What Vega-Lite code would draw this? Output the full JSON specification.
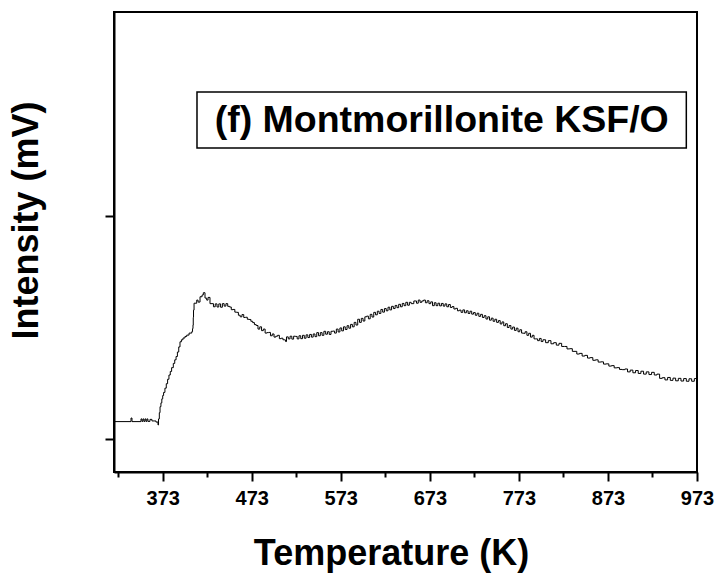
{
  "$schema": "https://vega.github.io/schema/vega-lite/v6.json",
  "width": 583,
  "height": 460,
  "autosize": {"type": "none"},
  "padding": {"left": 114, "top": 12, "right": 20, "bottom": 101},
  "background": "white",
  "config": {
    "view": {"stroke": "black", "strokeWidth": 2},
    "font": "Liberation Sans"
  },
  "layer": [
    {
      "data": {"values": [
        {"T": 318.3, "I": 0.078}, {"T": 336.3, "I": 0.078}, {"T": 337.4, "I": 0.094}, {"T": 338.5, "I": 0.078},
        {"T": 347.5, "I": 0.078}, {"T": 348.6, "I": 0.090}, {"T": 349.7, "I": 0.079}, {"T": 350.8, "I": 0.090},
        {"T": 351.9, "I": 0.079}, {"T": 353.1, "I": 0.090}, {"T": 354.2, "I": 0.079}, {"T": 355.3, "I": 0.090},
        {"T": 356.4, "I": 0.079}, {"T": 358.7, "I": 0.088}, {"T": 360.9, "I": 0.081}, {"T": 364.3, "I": 0.081},
        {"T": 365.4, "I": 0.076}, {"T": 367.7, "I": 0.063}, {"T": 368.3, "I": 0.090}, {"T": 369.2, "I": 0.118},
        {"T": 370.0, "I": 0.145}, {"T": 371.0, "I": 0.162}, {"T": 372.0, "I": 0.180}, {"T": 373.0, "I": 0.195},
        {"T": 374.0, "I": 0.209}, {"T": 375.5, "I": 0.228}, {"T": 377.0, "I": 0.248}, {"T": 378.5, "I": 0.268},
        {"T": 380.0, "I": 0.287}, {"T": 381.5, "I": 0.303}, {"T": 383.0, "I": 0.320}, {"T": 384.9, "I": 0.339},
        {"T": 386.5, "I": 0.355}, {"T": 388.0, "I": 0.370}, {"T": 389.5, "I": 0.390}, {"T": 391.0, "I": 0.413},
        {"T": 392.4, "I": 0.436}, {"T": 394.0, "I": 0.445}, {"T": 395.8, "I": 0.453}, {"T": 398.0, "I": 0.460},
        {"T": 400.0, "I": 0.466}, {"T": 402.6, "I": 0.475}, {"T": 405.6, "I": 0.481}, {"T": 406.5, "I": 0.495},
        {"T": 407.0, "I": 0.511}, {"T": 407.3, "I": 0.545}, {"T": 407.6, "I": 0.578}, {"T": 408.2, "I": 0.609},
        {"T": 411.2, "I": 0.623}, {"T": 412.7, "I": 0.614}, {"T": 414.9, "I": 0.638}, {"T": 417.2, "I": 0.646},
        {"T": 418.6, "I": 0.656}, {"T": 420.5, "I": 0.632}, {"T": 422.4, "I": 0.623}, {"T": 423.9, "I": 0.635},
        {"T": 426.1, "I": 0.607}, {"T": 430, "I": 0.593}, {"T": 432, "I": 0.606}, {"T": 434, "I": 0.592},
        {"T": 436, "I": 0.606}, {"T": 438, "I": 0.591}, {"T": 440, "I": 0.607}, {"T": 442, "I": 0.596},
        {"T": 444, "I": 0.607}, {"T": 446, "I": 0.595}, {"T": 448, "I": 0.592}, {"T": 450, "I": 0.580},
        {"T": 452, "I": 0.581}, {"T": 454, "I": 0.569}, {"T": 456, "I": 0.568}, {"T": 458, "I": 0.555},
        {"T": 460, "I": 0.548}, {"T": 462, "I": 0.558}, {"T": 464, "I": 0.545}, {"T": 466, "I": 0.546},
        {"T": 468, "I": 0.537}, {"T": 470, "I": 0.536}, {"T": 472, "I": 0.528}, {"T": 474, "I": 0.522},
        {"T": 476, "I": 0.513}, {"T": 478, "I": 0.509}, {"T": 480, "I": 0.493}, {"T": 482, "I": 0.503},
        {"T": 484, "I": 0.486}, {"T": 486, "I": 0.493}, {"T": 488, "I": 0.475}, {"T": 490, "I": 0.477},
        {"T": 492, "I": 0.478}, {"T": 494, "I": 0.463}, {"T": 496, "I": 0.471}, {"T": 498, "I": 0.457},
        {"T": 500, "I": 0.461}, {"T": 502, "I": 0.465}, {"T": 504, "I": 0.450}, {"T": 506, "I": 0.452},
        {"T": 508, "I": 0.445}, {"T": 510, "I": 0.444}, {"T": 511, "I": 0.437}, {"T": 512, "I": 0.458},
        {"T": 514, "I": 0.449}, {"T": 516, "I": 0.461}, {"T": 518, "I": 0.448}, {"T": 520, "I": 0.461},
        {"T": 522, "I": 0.460}, {"T": 524, "I": 0.449}, {"T": 526, "I": 0.463}, {"T": 528, "I": 0.450},
        {"T": 530, "I": 0.465}, {"T": 532, "I": 0.452}, {"T": 534, "I": 0.467}, {"T": 536, "I": 0.455},
        {"T": 538, "I": 0.469}, {"T": 540, "I": 0.457}, {"T": 542, "I": 0.471}, {"T": 544, "I": 0.459},
        {"T": 546, "I": 0.477}, {"T": 548, "I": 0.463}, {"T": 550, "I": 0.477}, {"T": 552, "I": 0.465},
        {"T": 554, "I": 0.483}, {"T": 556, "I": 0.470}, {"T": 558, "I": 0.481}, {"T": 560, "I": 0.469},
        {"T": 562, "I": 0.483}, {"T": 564, "I": 0.484}, {"T": 566, "I": 0.475}, {"T": 568, "I": 0.493},
        {"T": 570, "I": 0.480}, {"T": 572, "I": 0.498}, {"T": 574, "I": 0.485}, {"T": 576, "I": 0.503},
        {"T": 578, "I": 0.491}, {"T": 580, "I": 0.508}, {"T": 582, "I": 0.497}, {"T": 584, "I": 0.514},
        {"T": 586, "I": 0.503}, {"T": 588, "I": 0.523}, {"T": 590, "I": 0.511}, {"T": 592, "I": 0.537},
        {"T": 594, "I": 0.523}, {"T": 596, "I": 0.541}, {"T": 598, "I": 0.529}, {"T": 600, "I": 0.548},
        {"T": 602, "I": 0.551}, {"T": 604, "I": 0.539}, {"T": 606, "I": 0.559}, {"T": 608, "I": 0.547},
        {"T": 610, "I": 0.568}, {"T": 612, "I": 0.557}, {"T": 614, "I": 0.573}, {"T": 616, "I": 0.563},
        {"T": 618, "I": 0.581}, {"T": 620, "I": 0.569}, {"T": 622, "I": 0.585}, {"T": 624, "I": 0.575},
        {"T": 626, "I": 0.591}, {"T": 628, "I": 0.579}, {"T": 630, "I": 0.595}, {"T": 632, "I": 0.585},
        {"T": 634, "I": 0.599}, {"T": 636, "I": 0.589}, {"T": 638, "I": 0.604}, {"T": 640, "I": 0.593},
        {"T": 642, "I": 0.608}, {"T": 644, "I": 0.598}, {"T": 646, "I": 0.613}, {"T": 648, "I": 0.600},
        {"T": 650, "I": 0.613}, {"T": 652, "I": 0.607}, {"T": 655, "I": 0.619}, {"T": 658, "I": 0.609},
        {"T": 660, "I": 0.623}, {"T": 662, "I": 0.613}, {"T": 664, "I": 0.619}, {"T": 666, "I": 0.623},
        {"T": 668, "I": 0.611}, {"T": 670, "I": 0.620}, {"T": 672, "I": 0.607}, {"T": 674, "I": 0.615},
        {"T": 676, "I": 0.598}, {"T": 678, "I": 0.611}, {"T": 680, "I": 0.598}, {"T": 682, "I": 0.609},
        {"T": 684, "I": 0.597}, {"T": 686, "I": 0.608}, {"T": 688, "I": 0.596}, {"T": 690, "I": 0.606},
        {"T": 692, "I": 0.593}, {"T": 694, "I": 0.603}, {"T": 696, "I": 0.590}, {"T": 698, "I": 0.594},
        {"T": 700, "I": 0.583}, {"T": 702, "I": 0.586}, {"T": 704, "I": 0.575}, {"T": 706, "I": 0.578},
        {"T": 708, "I": 0.568}, {"T": 710, "I": 0.579}, {"T": 712, "I": 0.566}, {"T": 714, "I": 0.575},
        {"T": 716, "I": 0.563}, {"T": 718, "I": 0.573}, {"T": 720, "I": 0.560}, {"T": 722, "I": 0.567},
        {"T": 724, "I": 0.555}, {"T": 726, "I": 0.564}, {"T": 728, "I": 0.550}, {"T": 730, "I": 0.559},
        {"T": 732, "I": 0.545}, {"T": 734, "I": 0.553}, {"T": 736, "I": 0.538}, {"T": 738, "I": 0.548},
        {"T": 740, "I": 0.533}, {"T": 742, "I": 0.542}, {"T": 744, "I": 0.528}, {"T": 746, "I": 0.537},
        {"T": 748, "I": 0.523}, {"T": 750, "I": 0.531}, {"T": 752, "I": 0.516}, {"T": 754, "I": 0.525},
        {"T": 756, "I": 0.508}, {"T": 758, "I": 0.517}, {"T": 760, "I": 0.500}, {"T": 762, "I": 0.509},
        {"T": 764, "I": 0.493}, {"T": 766, "I": 0.502}, {"T": 768, "I": 0.487}, {"T": 770, "I": 0.497},
        {"T": 772, "I": 0.481}, {"T": 774, "I": 0.490}, {"T": 776, "I": 0.475}, {"T": 778, "I": 0.474},
        {"T": 780, "I": 0.481}, {"T": 782, "I": 0.465}, {"T": 784, "I": 0.474}, {"T": 786, "I": 0.457},
        {"T": 788, "I": 0.465}, {"T": 790, "I": 0.449}, {"T": 792, "I": 0.449}, {"T": 794, "I": 0.441},
        {"T": 796, "I": 0.451}, {"T": 798, "I": 0.437}, {"T": 800, "I": 0.445}, {"T": 803, "I": 0.432},
        {"T": 806, "I": 0.441}, {"T": 809, "I": 0.427}, {"T": 812, "I": 0.432}, {"T": 815, "I": 0.421},
        {"T": 818, "I": 0.429}, {"T": 821, "I": 0.415}, {"T": 824, "I": 0.415}, {"T": 827, "I": 0.404},
        {"T": 830, "I": 0.405}, {"T": 833, "I": 0.393}, {"T": 836, "I": 0.393}, {"T": 838, "I": 0.381},
        {"T": 841, "I": 0.384}, {"T": 844, "I": 0.372}, {"T": 847, "I": 0.375}, {"T": 850, "I": 0.363},
        {"T": 853, "I": 0.365}, {"T": 856, "I": 0.353}, {"T": 859, "I": 0.355}, {"T": 862, "I": 0.345},
        {"T": 865, "I": 0.346}, {"T": 868, "I": 0.336}, {"T": 871, "I": 0.337}, {"T": 874, "I": 0.327},
        {"T": 877, "I": 0.329}, {"T": 880, "I": 0.319}, {"T": 883, "I": 0.320}, {"T": 886, "I": 0.312},
        {"T": 889, "I": 0.311}, {"T": 892, "I": 0.314}, {"T": 895, "I": 0.301}, {"T": 898, "I": 0.309},
        {"T": 901, "I": 0.297}, {"T": 904, "I": 0.307}, {"T": 907, "I": 0.294}, {"T": 910, "I": 0.304},
        {"T": 913, "I": 0.291}, {"T": 916, "I": 0.301}, {"T": 919, "I": 0.289}, {"T": 922, "I": 0.299},
        {"T": 925, "I": 0.287}, {"T": 928, "I": 0.291}, {"T": 931, "I": 0.272}, {"T": 934, "I": 0.275},
        {"T": 937, "I": 0.265}, {"T": 940, "I": 0.276}, {"T": 943, "I": 0.263}, {"T": 946, "I": 0.273},
        {"T": 949, "I": 0.261}, {"T": 952, "I": 0.272}, {"T": 955, "I": 0.260}, {"T": 958, "I": 0.271},
        {"T": 961, "I": 0.259}, {"T": 964, "I": 0.270}, {"T": 967, "I": 0.259}, {"T": 970, "I": 0.271},
        {"T": 973, "I": 0.266}
      ]},
      "mark": {"type": "line", "color": "black", "strokeWidth": 1, "clip": true, "interpolate": "step-after"},
      "encoding": {
        "x": {
          "field": "T", "type": "quantitative",
          "scale": {"domain": [318.3, 973], "nice": false, "zero": false},
          "axis": {
            "title": "Temperature (K)",
            "values": [323, 373, 423, 473, 523, 573, 623, 673, 723, 773, 823, 873, 923, 973],
            "labelExpr": "datum.value % 100 == 73 ? datum.label : ''",
            "format": "d",
            "grid": false,
            "domainColor": "black", "domainWidth": 2,
            "tickColor": "black", "tickWidth": 2,
            "tickSize": {"condition": {"test": "datum.value % 100 == 73", "value": 9}, "value": 5},
            "labelFont": "Liberation Sans", "labelFontWeight": "bold", "labelFontSize": 20, "labelColor": "black",
            "labelPadding": 7, "labelFlush": false, "labelOverlap": false,
            "titleFont": "Liberation Sans", "titleFontWeight": "bold", "titleFontSize": 36, "titleColor": "black",
            "titlePadding": 28, "titleX": 277, "titleAlign": "center"
          }
        },
        "y": {
          "field": "I", "type": "quantitative",
          "scale": {"domain": [-0.148, 1.915], "nice": false, "zero": false},
          "axis": {
            "title": "Intensity (mV)",
            "values": [0, 1],
            "labels": false,
            "grid": false,
            "domainColor": "black", "domainWidth": 2,
            "tickColor": "black", "tickWidth": 2, "tickSize": 9,
            "titleFont": "Liberation Sans", "titleFontWeight": "bold", "titleFontSize": 36, "titleColor": "black",
            "titlePadding": 59, "titleY": 208, "titleAlign": "center"
          }
        }
      }
    },
    {
      "data": {"values": [{}]},
      "mark": {"type": "rect", "fill": "white", "stroke": "black", "strokeWidth": 1.5},
      "encoding": {
        "x": {"datum": 411.5, "type": "quantitative"},
        "x2": {"datum": 961.0},
        "y": {"datum": 1.556, "type": "quantitative"},
        "y2": {"datum": 1.305}
      }
    },
    {
      "data": {"values": [{}]},
      "mark": {"type": "text", "font": "Liberation Sans", "fontWeight": "bold", "fontSize": 37.5, "color": "black", "align": "center", "baseline": "middle"},
      "encoding": {
        "x": {"datum": 686.3, "type": "quantitative"},
        "y": {"datum": 1.426, "type": "quantitative"},
        "text": {"value": "(f) Montmorillonite KSF/O"}
      }
    }
  ]
}
